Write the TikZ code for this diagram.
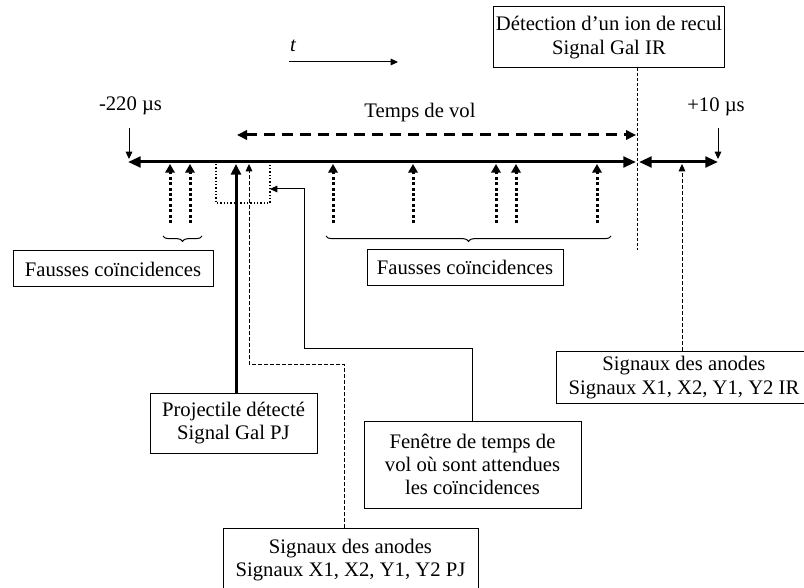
\documentclass[tikz,border=0pt]{standalone}
\usepackage{fontspec}
\setmainfont{Liberation Serif}
\usetikzlibrary{arrows.meta,decorations.pathreplacing}
\newcommand\taille{\fontsize{15.5}{17.5}\selectfont}

\begin{document}
\begin{tikzpicture}[x=0.75pt,y=0.75pt,yscale=-1,xscale=1,
  boite/.style={draw,line width=0.75pt,align=center,inner xsep=2pt,inner ysep=1pt,font=\taille},
  texte/.style={inner sep=0pt,font=\taille},
  axe/.style={line width=2.25pt,{Triangle[length=9.5pt,width=8pt]}-{Triangle[length=9.5pt,width=8pt]}},
  epais/.style={line width=2.25pt,-{Triangle[length=8pt,width=7.5pt]}},
  pointille/.style={line width=2.25pt,dash pattern=on 2.25pt off 1.8pt,-{Triangle[length=6.5pt,width=7pt]}},
  vol/.style={line width=2.25pt,dash pattern=on 8.25pt off 5.25pt,{Triangle[length=7.5pt,width=7pt]}-{Triangle[length=7.5pt,width=7pt]}},
  tirets/.style={line width=0.75pt,dash pattern=on 3pt off 1.5pt,-{Triangle[length=5.5pt,width=5pt]}},
  fine/.style={line width=0.75pt,-{Triangle[length=5.5pt,width=5pt]}},
  pointfin/.style={line width=0.75pt,dash pattern=on 2.25pt off 1.5pt},
  cadrepoint/.style={line width=1.1pt,dash pattern=on 1.1pt off 1.4pt},
  accolade/.style={line width=0.75pt,decorate,decoration={brace,amplitude=4pt,mirror}}
]
\useasboundingbox (0,0) rectangle (804,588);

% Boxes
\node[boite,minimum width=172.5pt,minimum height=45.75pt] (detect) at (609,37.5) {Détection d’un ion de recul\\Signal Gal IR};
\node[boite,minimum width=150pt,minimum height=27pt] (faux1) at (113,269) {Fausses coïncidences};
\node[boite,minimum width=147pt,minimum height=27pt] (faux2) at (465,267.5) {Fausses coïncidences};
\node[boite,minimum width=125.25pt,minimum height=45pt] (proj) at (233.5,423) {Projectile détecté\\Signal Gal PJ};
\node[boite,minimum width=162.75pt,minimum height=65.25pt] (fen) at (472.5,464.5) {Fenêtre de temps de\\vol où sont attendues\\les coïncidences};
\node[boite,minimum width=191pt,minimum height=39pt] (ir) at (684,377.5) {Signaux des anodes\\Signaux X1, X2, Y1, Y2 IR};
\node[boite,minimum width=191.25pt,minimum height=48pt] (pj) at (350.5,560) {Signaux des anodes\\Signaux X1, X2, Y1, Y2 PJ};

% Text Node
\node[texte] (m220) at (130.5,106) {-220 µs};
\node[texte] (p10) at (716,107) {+10 µs};
\node[texte] (tv) at (420,113) {Temps de vol};
\node[texte] (t) at (293,46) {\itshape t};

% Axis
\coordinate (gauche) at (128,162);
\coordinate (milieu) at (636,162);
\coordinate (milieu2) at (639,162);
\coordinate (droite) at (718,162);
\draw[axe] (gauche) -- (milieu);
\draw[axe] (milieu2) -- (droite);

%Straight Lines
\coordinate (t0) at (289,62);
\coordinate (t1) at (398,62);
\draw[fine] (t0) -- (t1);
\coordinate (d220) at (129,128);
\coordinate (f220) at (129,159);
\draw[fine] (d220) -- (f220);
\coordinate (d10) at (718,128);
\coordinate (f10) at (718,159);
\draw[fine] (d10) -- (f10);
\coordinate (vol0) at (237,135);
\coordinate (vol1) at (636,135);
\draw[vol] (vol0) -- (vol1);

% Fausses coincidences
\foreach \x in {170,190,333,413,496,516,597}{
  \coordinate (fb\x) at (\x,223);
  \coordinate (fh\x) at (\x,164);
  \draw[pointille] (fb\x) -- (fh\x);
}
\draw[accolade] (163,236) -- (202,236);
\draw[accolade] (326,236) -- (611,236);

% Window
\draw[cadrepoint] (216,164) -- (216,203) -- (270,203) -- (270,164);
\coordinate (fenpt) at (270,189);
\coordinate (coude1) at (304,348);
\draw[fine] (fen.north) |- (coude1) |- (fenpt);

% Signals
\coordinate (p236) at (236,164);
\draw[epais] (proj.north -| p236) -- (p236);
\coordinate (pjhaut) at (344,528);
\coordinate (coude2) at (249,364);
\coordinate (apj) at (249,164);
\draw[tirets] (pjhaut) |- (coude2) -- (apj);
\coordinate (air) at (682,164);
\draw[tirets] (ir.north -| air) -- (air);
\coordinate (vert) at (637,250);
\draw[pointfin] (detect.south -| vert) -- (vert);

\end{tikzpicture}
\end{document}
